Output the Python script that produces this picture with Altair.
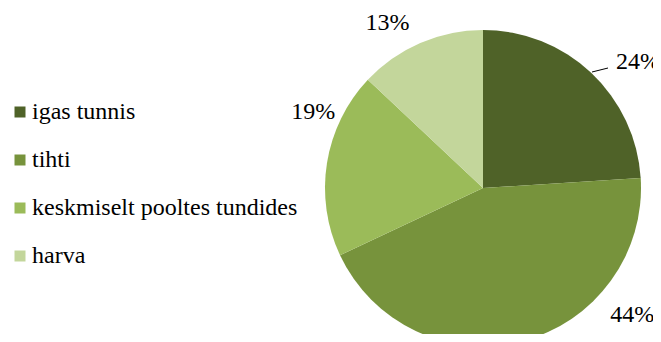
import altair as alt
import pandas as pd

categories = ["igas tunnis", "tihti", "keskmiselt pooltes tundides", "harva"]
values = [24, 44, 19, 13]
labels = ["24%", "44%", "19%", "13%"]
colors = ["#4F6228", "#77933C", "#9BBB59", "#C3D69B"]

df = pd.DataFrame({"cat": categories, "val": values, "lab": labels, "ord": list(range(len(values)))})

CX, CY, R = 475, 180, 158
FONT = "Liberation Serif"

pie = alt.Chart(df).mark_arc(outerRadius=R).encode(
    theta=alt.Theta("val:Q", stack=True),
    order=alt.Order("ord:Q"),
    x=alt.value(CX), y=alt.value(CY),
    color=alt.Color(
        "cat:N",
        scale=alt.Scale(domain=categories, range=colors),
        sort=categories,
        legend=alt.Legend(
            title=None, orient="none", legendX=0, legendY=92, padding=0,
            symbolType="square", symbolSize=121, symbolStrokeWidth=0,
            labelFont=FONT, labelFontSize=24, labelColor="#000000",
            labelOffset=0, rowPadding=24, labelLimit=400,
        ),
    ),
)

lab_base = alt.Chart(df).transform_joinaggregate(
    total="sum(val)"
).transform_window(
    cum="sum(val)", sort=[alt.SortField("ord")], frame=[None, 0]
).transform_calculate(
    mid="(datum.cum - datum.val / 2) / datum.total * 2 * PI"
)

offsets = {"24%": (25, 13), "44%": (102, -57), "19%": (18, -46), "13%": (-20, 9)}
text_layers = []
for lab, (dx, dy) in offsets.items():
    text_layers.append(
        lab_base.transform_filter(alt.datum.lab == lab)
        .mark_text(radius=190, font=FONT, fontSize=24, color="#000000", dx=dx, dy=dy)
        .encode(
            theta=alt.Theta("mid:Q", scale=None),
            x=alt.value(CX), y=alt.value(CY), text="lab:N",
        )
    )

leader = alt.Chart(df).transform_filter(alt.datum.ord == 0).mark_rule(
    color="#000000", strokeWidth=1
).encode(x=alt.value(584), x2=alt.value(600), y=alt.value(64), y2=alt.value(60))

chart = alt.layer(pie, leader, *text_layers).properties(
    width=645, height=326, padding=0,
    autosize=alt.AutoSizeParams(type="none"),
).configure_view(stroke=None)

chart.save("out.html", embed_options={"renderer": "svg", "actions": False})
